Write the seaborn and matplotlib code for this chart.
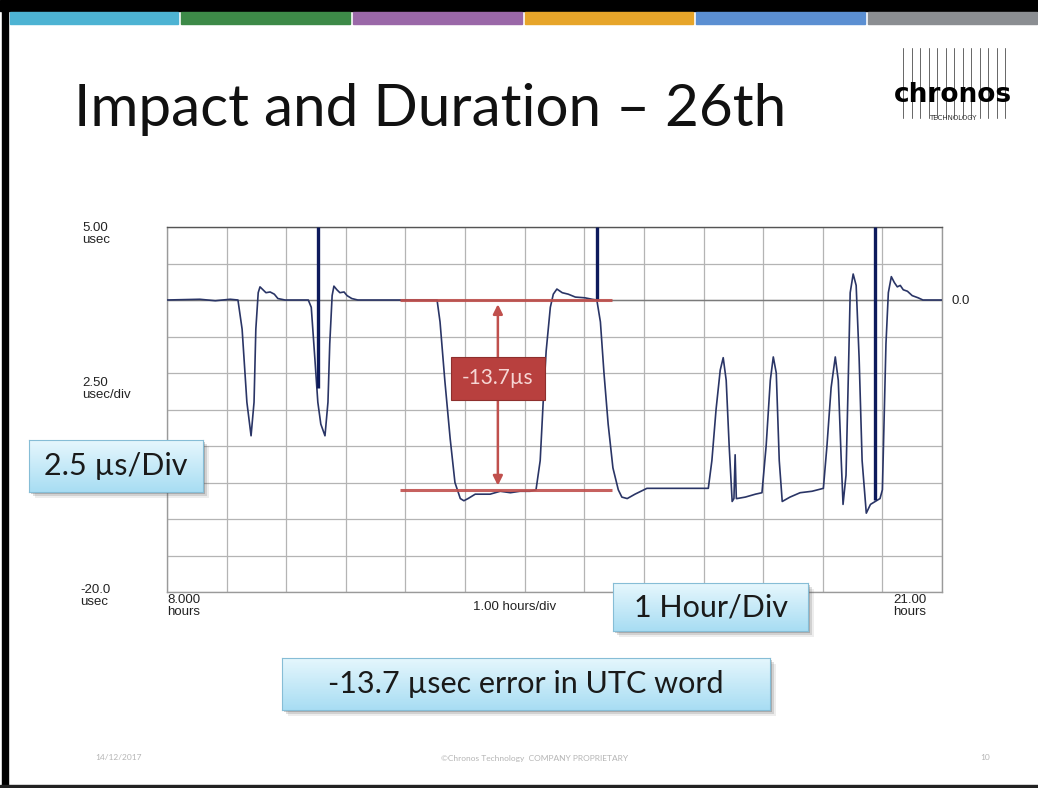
import numpy as np
import matplotlib
matplotlib.use('Agg')
import matplotlib.pyplot as plt
import seaborn as sns
from matplotlib.patches import Rectangle
from matplotlib.lines import Line2D
from matplotlib.colors import LinearSegmentedColormap

# time offset trace (hours, microseconds)
hours = [8.00, 8.55, 8.81, 9.06, 9.19, 9.26, 9.34, 9.41, 9.46, 9.49, 9.53, 9.56,
         9.61, 9.66, 9.73, 9.80, 9.86, 9.98, 10.37, 10.42, 10.48, 10.53, 10.58,
         10.65, 10.70, 10.73, 10.77, 10.80, 10.85, 10.90, 10.97, 11.02, 11.10,
         11.20, 12.53, 12.58, 12.66, 12.75, 12.83, 12.92, 12.98, 13.05, 13.17,
         13.42, 13.59, 13.76, 13.92, 14.09, 14.19, 14.26, 14.31, 14.36, 14.43,
         14.48, 14.54, 14.63, 14.73, 14.85, 15.01, 15.13, 15.21, 15.27, 15.33,
         15.40, 15.48, 15.57, 15.63, 15.72, 15.85, 16.05, 16.61, 17.08, 17.14,
         17.21, 17.28, 17.33, 17.38, 17.43, 17.48, 17.51, 17.53, 17.55, 17.56,
         17.70, 17.87, 17.98, 18.05, 18.12, 18.17, 18.22, 18.27, 18.32, 18.45,
         18.62, 18.82, 19.01, 19.07, 19.14, 19.21, 19.26, 19.31, 19.34, 19.39,
         19.43, 19.46, 19.51, 19.56, 19.61, 19.66, 19.73, 19.80, 19.88, 19.96,
         20.00, 20.03, 20.06, 20.10, 20.15, 20.20, 20.25, 20.30, 20.35, 20.42,
         20.50, 20.60, 20.68, 21.00]
offset_us = [0.0, 0.05, -0.05, 0.05, 0.0, -2.0, -7.0, -9.3, -7.0, -2.0, 0.5, 0.9,
             0.7, 0.5, 0.55, 0.4, 0.1, 0.0, 0.0, -0.5, -4.0, -7.0, -8.5,
             -9.3, -7.0, -3.0, 0.3, 0.95, 0.7, 0.5, 0.55, 0.3, 0.1,
             0.0, 0.0, -1.5, -5.5, -9.5, -12.5, -13.6, -13.75, -13.6, -13.3,
             -13.3, -13.1, -13.2, -13.1, -13.1, -13.0, -11.0, -7.0, -3.5, -0.5,
             0.4, 0.75, 0.5, 0.4, 0.2, 0.15, 0.05, 0.0, -1.5, -5.0,
             -8.5, -11.5, -13.0, -13.5, -13.6, -13.3, -12.9, -12.9, -12.9, -11.0,
             -7.5, -4.8, -3.95, -5.5, -10.0, -13.8, -13.6, -10.6, -13.6, -13.6,
             -13.5, -13.3, -13.2, -10.0, -5.5, -3.9, -5.0, -11.0, -13.8, -13.5,
             -13.2, -13.1, -12.9, -10.0, -6.0, -3.9, -5.5, -11.0, -14.0, -12.0,
             -5.0, 0.5, 1.78, 1.0, -4.0, -11.0, -14.6, -14.0, -13.8, -13.6,
             -13.0, -8.0, -3.0, 0.5, 1.6, 1.2, 0.9, 1.0, 0.7, 0.6,
             0.3, 0.15, 0.0, 0.0]

# short full-scale glitches
spike_hours = [10.53, 15.21, 19.88]
spike_base_us = [-6.0, 0.0, -13.7]
spike_top_us = 5.0

# red step markers
step_levels_us = [0.0, -13.0]
step_x0, step_x1 = 11.91, 15.47
step_arrow_x = 13.55
step_label = "-13.7µs"

stripe_colors = ['#4db3d3', '#3d8a48', '#9a68a8', '#e7a52a', '#5b8fd2', '#8b8e92']

W, H = 1038, 788
sns.set_theme(style="white")
plt.rcParams['font.family'] = ['Lato', 'DejaVu Sans']

fig = plt.figure(figsize=(W / 100, H / 100), dpi=100)
fig.patch.set_facecolor('white')


def fx(px):
    return px / W


def fy(py):
    return 1 - py / H


# slide frame and colour stripe
fig.add_artist(Rectangle((0, fy(11)), 1, 11 / H, transform=fig.transFigure, color='black'))
fig.add_artist(Rectangle((fx(2), 0), 6 / W, 1, transform=fig.transFigure, color='black'))
fig.add_artist(Rectangle((0, 0), 1, 3 / H, transform=fig.transFigure, color='#222222'))
seg_w = (W - 8) / len(stripe_colors)
for i, c in enumerate(stripe_colors):
    fig.add_artist(Rectangle((fx(8 + i * seg_w + 1.5), fy(24)), (seg_w - 3) / W, 12 / H,
                             transform=fig.transFigure, color=c))

fig.text(fx(74), fy(110), "Impact and Duration \u2013 26th", fontsize=42,
         color='#111111', va='center', ha='left')

# logo
for lx in np.linspace(903, 1005, 13):
    fig.add_artist(Line2D([fx(lx), fx(lx)], [fy(118), fy(48)], transform=fig.transFigure,
                          color='#666666', lw=0.7))
fig.text(fx(953), fy(95), "chronos", fontsize=19, fontweight='heavy', color='black',
         ha='center', va='center', family='DejaVu Sans')
fig.text(fx(953), fy(118), "TECHNOLOGY", fontsize=5, color='#333333',
         ha='center', va='center', family='DejaVu Sans')

# scope plot
ax = fig.add_axes([fx(167), fy(592), (942 - 167) / W, (592 - 227) / H])
ax.set_xlim(8, 21)
ax.set_ylim(-20, 5)
ax.set_xticks(np.arange(8, 22, 1))
ax.set_yticks(np.arange(-20, 5.1, 2.5))
ax.grid(True, color='#b4b4b4', lw=0.9)
ax.tick_params(length=0, labelbottom=False, labelleft=False)
for s in ax.spines.values():
    s.set_color('#9a9a9a')
    s.set_linewidth(1.0)
ax.spines['top'].set_color('#555555')
ax.axhline(0, color='#7a7a7a', lw=1.0, zorder=1)

sns.lineplot(x=hours, y=offset_us, ax=ax, color='#2a3566', lw=1.2, sort=False,
             estimator=None, zorder=3)
ax.vlines(spike_hours, spike_base_us, spike_top_us, color='#0d1a5c', lw=2.4, zorder=4)

red = '#c0504d'
ax.hlines(step_levels_us, step_x0, step_x1, color=red, lw=2.2, alpha=0.9, zorder=5)
ax.annotate('', xy=(step_arrow_x, step_levels_us[0] - 0.1), xytext=(step_arrow_x, step_levels_us[1] + 0.1),
            arrowprops=dict(arrowstyle='<|-|>', color=red, lw=1.8, mutation_scale=14), zorder=5)
ax.text(step_arrow_x, -5.35, step_label, ha='center', va='center', fontsize=15,
        color='#f6d6d4', zorder=6,
        bbox=dict(boxstyle='square,pad=0.55', fc='#b8403e', ec='#8e2f2d', lw=0.8))

# scope scale labels
lab = dict(fontsize=9.5, color='#222222', family='Liberation Sans', linespacing=1.05)
fig.text(fx(82), fy(222), "5.00\nusec", va='top', ha='left', **lab)
fig.text(fx(82), fy(377), "2.50\nusec/div", va='top', ha='left', **lab)
fig.text(fx(80), fy(584), "-20.0\nusec", va='top', ha='left', **lab)
fig.text(fx(167), fy(594), "8.000\nhours", va='top', ha='left', **lab)
fig.text(fx(893), fy(594), "21.00\nhours", va='top', ha='left', **lab)
fig.text(fx(473), fy(607), "1.00 hours/div", va='center', ha='left', **lab)
fig.text(fx(952), fy(301), "0.0", va='center', ha='left', **lab)

blue_cmap = LinearSegmentedColormap.from_list('callout', ['#e6f7fd', '#a8ddf3'])


def callout(x0, y0, x1, y1, text, size):
    w, h = (x1 - x0) / W, (y1 - y0) / H
    for k, a in [(6, 0.10), (4, 0.18), (2, 0.3)]:
        fig.add_artist(Rectangle((fx(x0 + k), fy(y1 + k)), w, h, transform=fig.transFigure,
                                 color='#555555', alpha=a, lw=0, zorder=8))
    bax = fig.add_axes([fx(x0), fy(y1), w, h], zorder=9)
    bax.imshow(np.linspace(0, 1, 60).reshape(-1, 1), aspect='auto', cmap=blue_cmap,
               extent=[0, 1, 0, 1])
    bax.set_xticks([])
    bax.set_yticks([])
    for s in bax.spines.values():
        s.set_color('#86bdd6')
        s.set_linewidth(0.8)
    bax.text(0.5, 0.5, text, ha='center', va='center', fontsize=size, color='#1a1a1a',
             transform=bax.transAxes)


callout(29, 440, 203, 492, "2.5 µs/Div", 22)
callout(613, 583, 808, 631, "1 Hour/Div", 22)
callout(282, 658, 770, 710, "-13.7 µsec error in UTC word", 22)

foot = dict(fontsize=6, color='#b5b5b5', va='center')
fig.text(fx(95), fy(758), "14/12/2017", ha='left', **foot)
fig.text(fx(535), fy(758), "©Chronos Technology  COMPANY PROPRIETARY", ha='center', **foot)
fig.text(fx(985), fy(758), "10", ha='center', **foot)

fig.savefig('out.png', dpi=100, facecolor='white')
